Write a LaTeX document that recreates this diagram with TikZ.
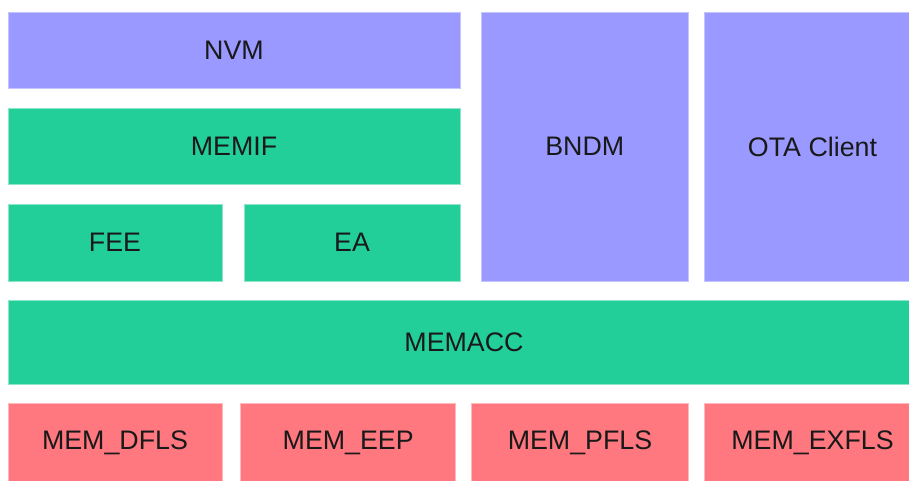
\documentclass[tikz,border=0pt]{standalone}
\usepackage{fontspec}
\setmainfont{Liberation Sans}
\definecolor{purp}{HTML}{9999FF}
\definecolor{purpE}{HTML}{C4C4FF}
\definecolor{grn}{HTML}{22CF99}
\definecolor{grnE}{HTML}{8EE6CA}
\definecolor{rd}{HTML}{FF7880}
\definecolor{rdE}{HTML}{FFB8BC}
\begin{document}
\begin{tikzpicture}[x=1pt,y=-1pt,
  blk/.style={rectangle, inner sep=0pt, line width=0.8pt, font=\fontsize{26.8}{32}\selectfont, text=black!90},
  pbox/.style={blk, fill=purp, draw=purpE},
  gbox/.style={blk, fill=grn, draw=grnE},
  rbox/.style={blk, fill=rd, draw=rdE}]
\useasboundingbox (0,0) rectangle (909,481);
\clip (0,0) rectangle (909,481);
\fill[white] (0,0) rectangle (909,481);
\node[pbox, minimum width=452pt, minimum height=76pt] (nvm) at (234,50) {NVM};
\node[gbox, minimum width=452pt, minimum height=76pt] (memif) at (234,146) {MEMIF};
\node[gbox, minimum width=214pt, minimum height=77pt] (fee) at (115,242.5) {FEE};
\node[gbox, minimum width=216pt, minimum height=77pt] (ea) at (352,242.5) {EA};
\node[pbox, minimum width=207.5pt, minimum height=269pt] (bndm) at (584.75,146.5) {BNDM};
\node[pbox, minimum width=217pt, minimum height=269pt] (ota) at (812.5,146.5) {OTA Client};
\node[gbox, minimum width=912pt, minimum height=83.3pt] (memacc) at (464,342.35) {MEMACC};
\node[rbox, minimum width=214pt, minimum height=80pt] (dfls) at (115,443.3) {MEM\_DFLS};
\node[rbox, minimum width=215pt, minimum height=80pt] (eep) at (348.2,443.3) {MEM\_EEP};
\node[rbox, minimum width=217.4pt, minimum height=80pt] (pfls) at (580,443.3) {MEM\_PFLS};
\node[rbox, minimum width=217pt, minimum height=80pt] (exfls) at (812.5,443.3) {MEM\_EXFLS};
\end{tikzpicture}
\end{document}
